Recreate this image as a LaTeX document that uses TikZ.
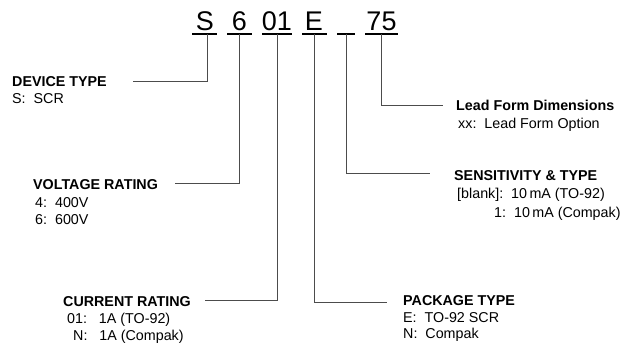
\documentclass[tikz,border=0pt]{standalone}
\usepackage{fontspec}
\setmainfont{Liberation Sans}
\begin{document}
\begin{tikzpicture}[x=1pt,y=-1pt,
  code/.style={inner sep=0pt,anchor=base,font=\fontsize{27}{30}\selectfont},
  title/.style={inner sep=0pt,anchor=base west,font=\fontsize{14.3}{17}\selectfont\bfseries},
  body/.style={inner sep=0pt,anchor=base west,font=\fontsize{14.3}{17}\selectfont},
  uline/.style={line width=1.1pt,black},
  conn/.style={line width=0.9pt,black!70}]
\useasboundingbox (0,0) rectangle (621,346);
% code characters
\node[code] (cS) at (205,30) {S};
\node[code] (c6) at (239.5,30) {6};
\node[code] (c01) at (277,30) {01};
\node[code] (cE) at (314,30) {E};
\node[code] (c75) at (381.5,30) {75};
% underlines
\foreach \n/\a/\b in {1/192/217,2/227/252,3/262/292,4/302/327,5/337/355,6/365/398}{
  \coordinate (la\n) at (\a,34);
  \coordinate (lb\n) at (\b,34);
  \draw[uline] (la\n) -- (lb\n);
}
% connector start points
\coordinate (u1) at (207,34);
\coordinate (u2) at (239,34);
\coordinate (u3) at (277,34);
\coordinate (u4) at (314,34);
\coordinate (u5) at (346,34);
\coordinate (u6) at (381,34);
% connector end points
\coordinate (e1) at (133,81.5);
\coordinate (e2) at (175,183);
\coordinate (e3) at (205,300);
\coordinate (e4) at (387,302);
\coordinate (e5) at (430,173);
\coordinate (e6) at (443,105);
\foreach \i in {1,...,6}{\draw[conn] (u\i) |- (e\i);}
% labels
\node[title] (dt) at (12,86) {DEVICE TYPE};
\node[body] (dt1) at (12,103) {S:\ \ SCR};
\node[title] (vr) at (33,189) {VOLTAGE RATING};
\node[body] (vr1) at (35,207) {4:\ \ 400V};
\node[body] (vr2) at (35,224) {6:\ \ 600V};
\node[title] (cr) at (63,306) {CURRENT RATING};
\node[body] (cr1) at (67,323) {01:\ \ \ 1A (TO-92)};
\node[body] (cr2) at (73,340) {N:\ \ \ 1A (Compak)};
\node[title] (pt) at (403,305) {PACKAGE TYPE};
\node[body] (pt1) at (403,322) {E:\ \ TO-92 SCR};
\node[body] (pt2) at (403,338) {N:\ \ Compak};
\node[title] (st) at (454,180) {SENSITIVITY \& TYPE};
\node[body] (st1) at (457,198) {[blank]:\ \ 10\,mA (TO-92)};
\node[body] (st2) at (494,217) {1:\ \ 10\,mA (Compak)};
\node[title] (lf) at (456,110) {Lead Form Dimensions};
\node[body] (lf1) at (458,128) {xx:\ \ Lead Form Option};
\end{tikzpicture}
\end{document}
